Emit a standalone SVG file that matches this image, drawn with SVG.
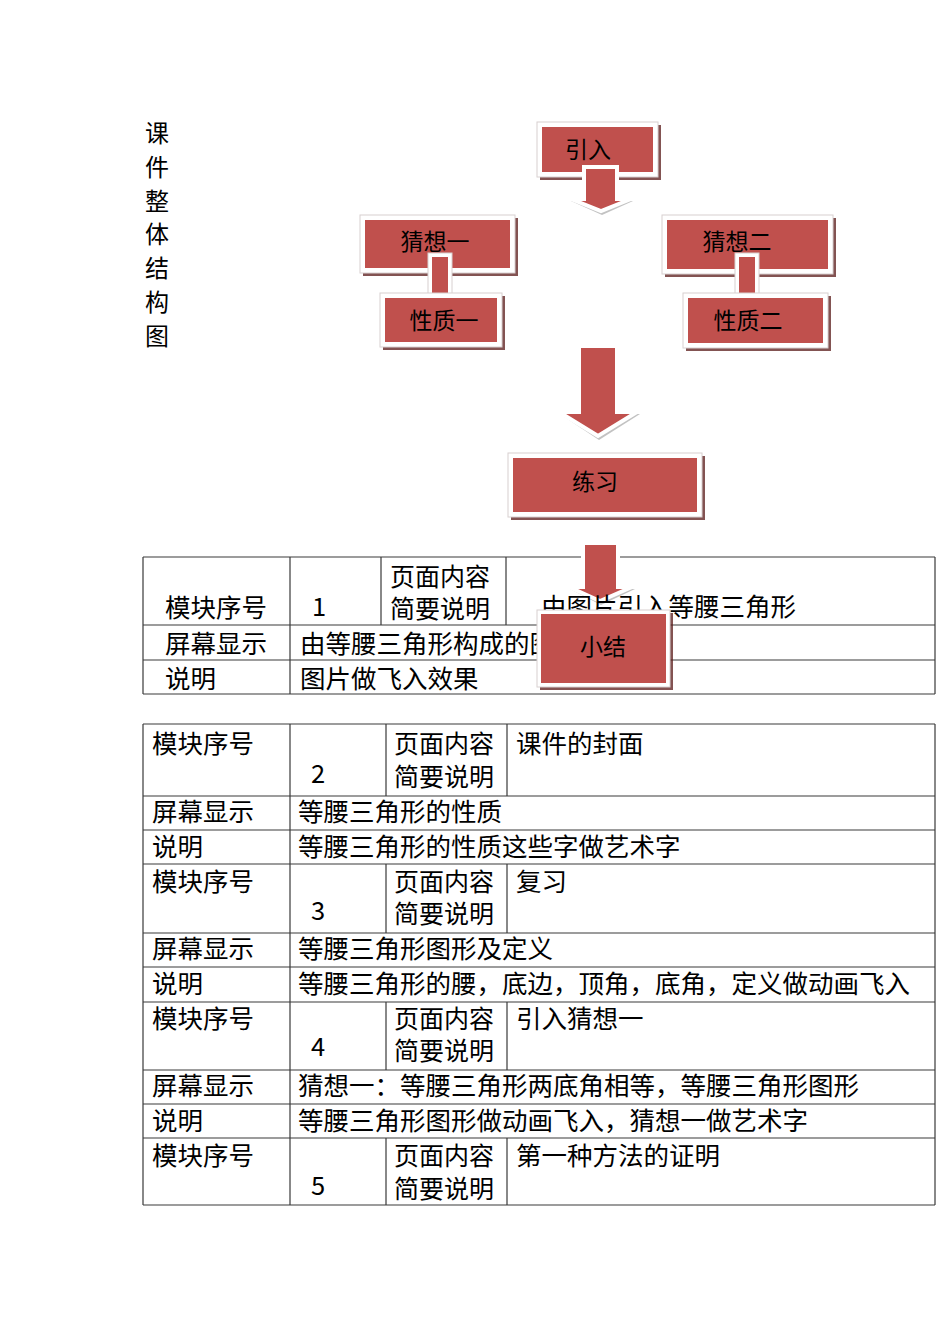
<svg xmlns="http://www.w3.org/2000/svg" width="950" height="1344" viewBox="0 0 950 1344">
<style>
text{font-family:"Noto Sans CJK SC","Noto Sans",sans-serif;fill:#000}
.t{font-size:25.5px}
.s{font-size:25px}
.n{font-size:23px;text-anchor:middle}
.v{font-size:24px;text-anchor:middle}
.ln{stroke:#3a3a3a;stroke-width:1.2;fill:none}
.sh{fill:#5a1a18;opacity:0.75}
.wb{fill:#fff;stroke:#d8d0d0;stroke-width:1}
.rd{fill:#C0504D}
.ar{fill:#C0504D;stroke:#fff;stroke-width:4;stroke-linejoin:miter}
.as{fill:#9a9a9a;opacity:0.6}
</style>
<rect width="950" height="1344" fill="#fff"/>

<g id="title">
<text class="v" x="157" y="142">课</text>
<text class="v" x="157" y="176">件</text>
<text class="v" x="157" y="210">整</text>
<text class="v" x="157" y="243">体</text>
<text class="v" x="157" y="277">结</text>
<text class="v" x="157" y="311">构</text>
<text class="v" x="157" y="345">图</text>
</g>

<g id="table1-grid">
<path class="ln" d="M143 557H935M143 625H935M143 660H935M143 694H935M143 557V694M935 557V694M290 557V694M381 557V625M506 557V625"/>
</g>

<g id="table2">
<path class="ln" d="M143 724H935M143 796H935M143 830H935M143 864H935M143 933H935M143 967H935M143 1002H935M143 1070H935M143 1104H935M143 1138H935M143 1205H935M143 724V1205M935 724V1205M290 724V1205M386 724V796M507 724V796M386 864V933M507 864V933M386 1002V1070M507 1002V1070M386 1138V1205M507 1138V1205"/>
<text class="t" x="152" y="753">模块序号</text>
<text class="t" x="311" y="783">2</text>
<text class="s" x="394" y="753">页面内容</text>
<text class="s" x="394" y="786">简要说明</text>
<text class="t" x="516" y="753">课件的封面</text>
<text class="t" x="152" y="821">屏幕显示</text>
<text class="t" x="298" y="821">等腰三角形的性质</text>
<text class="t" x="152" y="856">说明</text>
<text class="t" x="298" y="856">等腰三角形的性质这些字做艺术字</text>
<text class="t" x="152" y="891">模块序号</text>
<text class="t" x="311" y="920">3</text>
<text class="s" x="394" y="891">页面内容</text>
<text class="s" x="394" y="923">简要说明</text>
<text class="t" x="516" y="891">复习</text>
<text class="t" x="152" y="958">屏幕显示</text>
<text class="t" x="298" y="958">等腰三角形图形及定义</text>
<text class="t" x="152" y="993">说明</text>
<text class="t" x="298" y="993">等腰三角形的腰，底边，顶角，底角，定义做动画飞入</text>
<text class="t" x="152" y="1028">模块序号</text>
<text class="t" x="311" y="1056">4</text>
<text class="s" x="394" y="1028">页面内容</text>
<text class="s" x="394" y="1060">简要说明</text>
<text class="t" x="516" y="1028">引入猜想一</text>
<text class="t" x="152" y="1095">屏幕显示</text>
<text class="t" x="298" y="1095">猜想一：等腰三角形两底角相等，等腰三角形图形</text>
<text class="t" x="152" y="1130">说明</text>
<text class="t" x="298" y="1130">等腰三角形图形做动画飞入，猜想一做艺术字</text>
<text class="t" x="152" y="1165">模块序号</text>
<text class="t" x="311" y="1195">5</text>
<text class="s" x="394" y="1165">页面内容</text>
<text class="s" x="394" y="1198">简要说明</text>
<text class="t" x="516" y="1165">第一种方法的证明</text>
</g>

<g id="node-yinru">
<rect class="sh" x="540" y="125" width="121" height="55"/>
<rect class="wb" x="537" y="122" width="121" height="55"/>
<rect class="rd" x="542" y="127" width="111" height="45"/>
<text class="n" x="588" y="158">引入</text>
</g>

<g id="node-caixiang1">
<rect class="sh" x="363" y="218" width="155" height="58"/>
<rect class="wb" x="360" y="215" width="155" height="58"/>
<rect class="rd" x="365" y="220" width="145" height="48"/>
<text class="n" x="435" y="250">猜想一</text>
</g>

<g id="node-caixiang2">
<rect class="sh" x="665" y="218" width="171" height="59"/>
<rect class="wb" x="662" y="215" width="171" height="59"/>
<rect class="rd" x="667" y="220" width="161" height="49"/>
<text class="n" x="737" y="250">猜想二</text>
</g>

<g id="connectors">
<polygon class="as" points="584,170 618,170 618,201 633,201 602,215 571,201 584,201"/>
<polygon class="ar" points="584,167 617,167 617,199 631,199 601,211 571,199 584,199"/>
<rect x="428" y="253" width="24" height="42" fill="#fff" stroke="#d8d0d0" stroke-width="1"/>
<rect class="rd" x="432" y="257" width="16" height="38"/>
<rect x="735" y="253" width="24" height="42" fill="#fff" stroke="#d8d0d0" stroke-width="1"/>
<rect class="rd" x="739" y="257" width="16" height="38"/>
<polygon class="as" points="580,348 619,348 619,414 640,414 599,440 560,414 580,414"/>
<polygon class="ar" points="579,346 617,346 617,412 637,412 598,436 559,412 579,412"/>
<polygon class="as" points="584,545 620,545 620,589 635,589 601,605 570,589 584,589"/>
<polygon class="ar" points="583,543 618,543 618,587 632,587 600,601 569,587 583,587"/>
</g>

<g id="table1-text">
<text class="t" x="165" y="617">模块序号</text>
<text class="t" x="312" y="616">1</text>
<text class="s" x="390" y="586">页面内容</text>
<text class="s" x="390" y="618">简要说明</text>
<text class="t" x="541" y="616">由图片引入等腰三角形</text>
<text class="t" x="165" y="653">屏幕显示</text>
<text class="t" x="300" y="653">由等腰三角形构成的图</text>
<text class="t" x="165" y="688">说明</text>
<text class="t" x="300" y="688">图片做飞入效果</text>
</g>

<g id="node-xingzhi1">
<rect class="sh" x="383" y="296" width="122" height="54"/>
<rect class="wb" x="380" y="293" width="122" height="54"/>
<rect class="rd" x="385" y="298" width="112" height="44"/>
<text class="n" x="444" y="329">性质一</text>
</g>

<g id="node-xingzhi2">
<rect class="sh" x="686" y="296" width="145" height="55"/>
<rect class="wb" x="683" y="293" width="145" height="55"/>
<rect class="rd" x="688" y="298" width="135" height="45"/>
<text class="n" x="748" y="329">性质二</text>
</g>

<g id="node-lianxi">
<rect class="sh" x="511" y="456" width="194" height="64"/>
<rect class="wb" x="508" y="453" width="194" height="64"/>
<rect class="rd" x="513" y="458" width="184" height="54"/>
<text class="n" x="595" y="490">练习</text>
</g>

<g id="node-xiaojie">
<rect class="sh" x="540" y="613" width="133" height="77"/>
<rect class="wb" x="537" y="610" width="133" height="77"/>
<rect class="rd" x="541" y="614" width="125" height="69"/>
<text class="n" x="603" y="655">小结</text>
</g>
</svg>
